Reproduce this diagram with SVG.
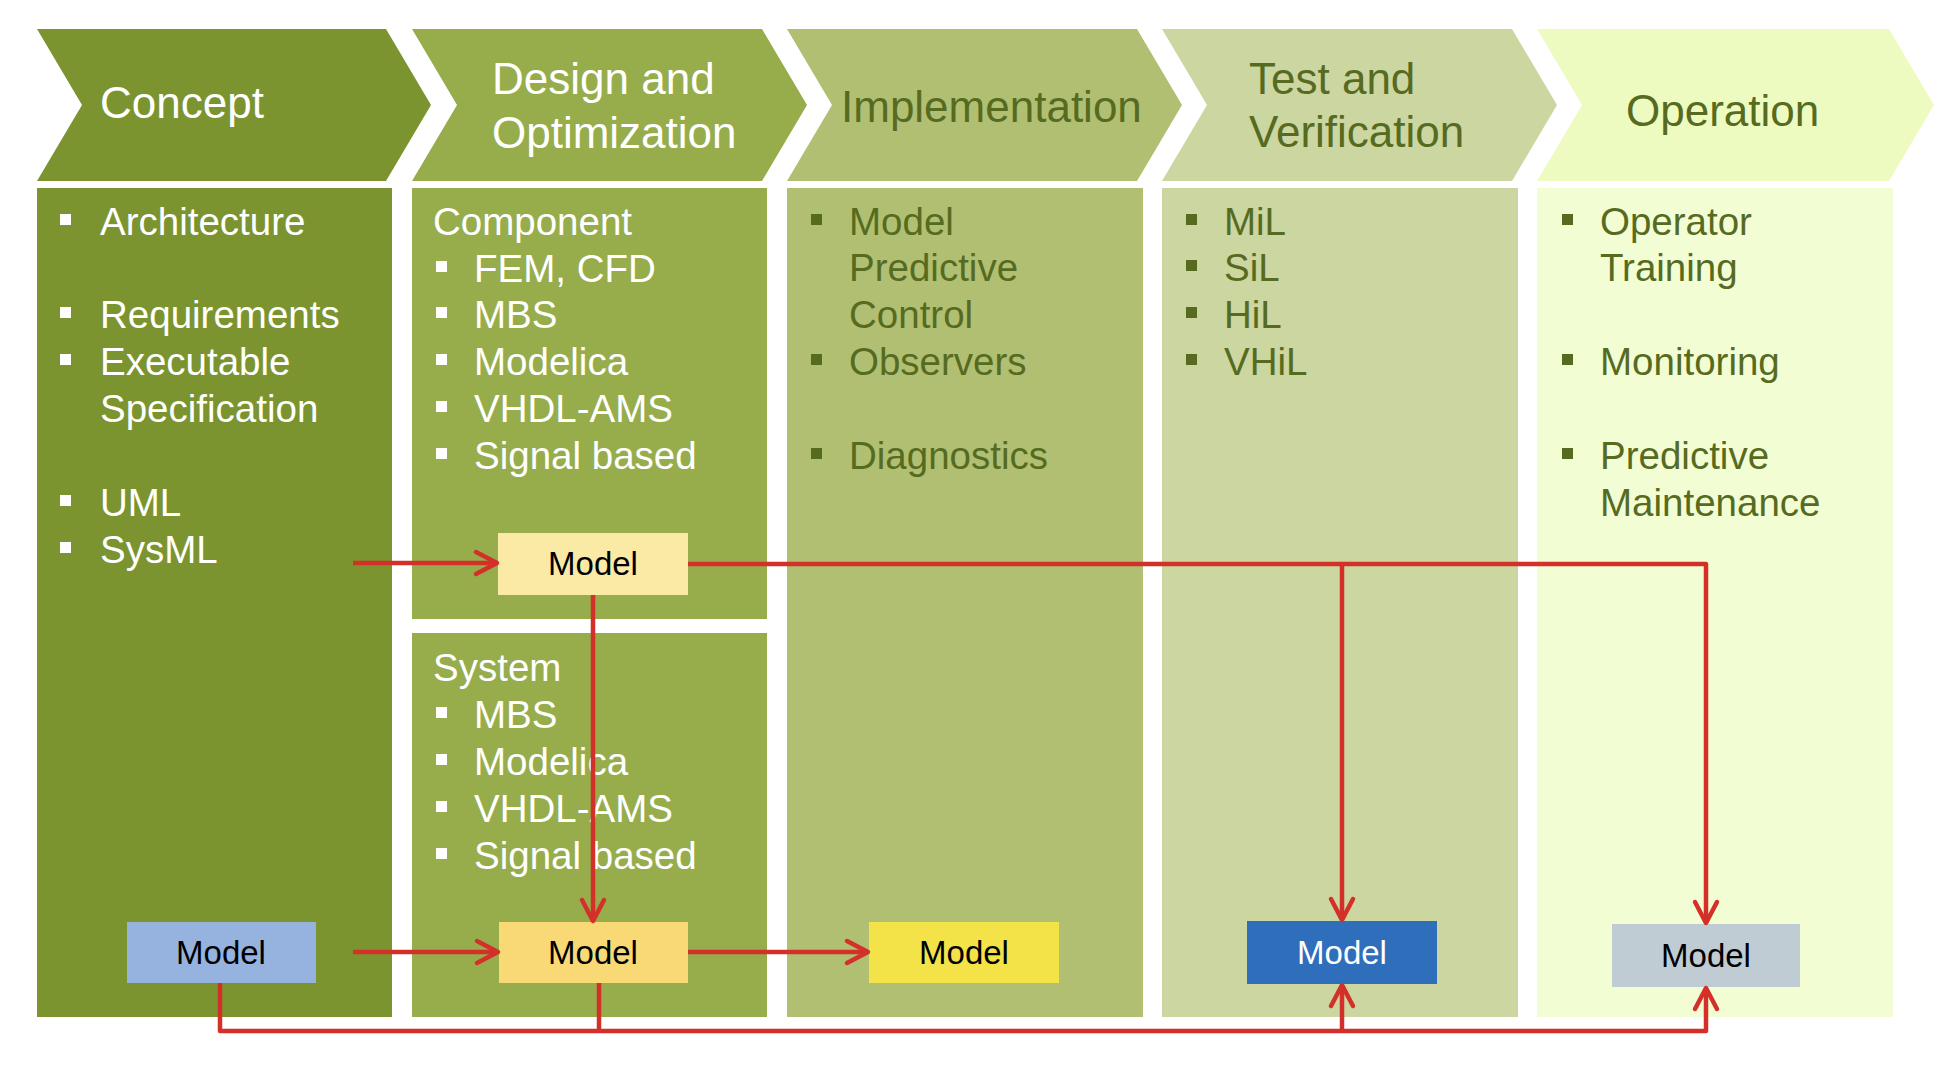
<svg xmlns="http://www.w3.org/2000/svg" width="1942" height="1090" viewBox="0 0 1942 1090">
<style>
text{font-family:"Liberation Sans",Arial,sans-serif}
.hd{font-size:44px}
.bd{font-size:38.5px}
.w{fill:#ffffff}
.d{fill:#566b1f}
.mt{font-size:33px;text-anchor:middle;fill:#000000}
.c1{fill:#7b942f}
.c2{fill:#97ad4c}
.c3{fill:#b1bf72}
.c4{fill:#cbd6a1}
.c5h{fill:#eefbc0}
.c5{fill:#f3fdd3}
.ln{fill:none;stroke:#d3302a;stroke-width:4.5;stroke-linejoin:round}
.arr{marker-end:url(#arr)}
</style>
<defs>
<marker id="arr" viewBox="-26 -14 30 28" refX="0" refY="0" markerWidth="30" markerHeight="28" markerUnits="userSpaceOnUse" orient="auto" overflow="visible">
<path d="M-21,-11 L0,0 L-21,11" fill="none" stroke="#d3302a" stroke-width="4.5" stroke-linecap="round" stroke-linejoin="round"/>
</marker>
</defs>
<rect x="0" y="0" width="1942" height="1090" fill="#ffffff"/>

<g id="concept">
<polygon class="c1" points="37,29 386,29 431,105 386,181 37,181 82,105"/>
<text class="hd w" x="100" y="118">Concept</text>
<rect class="c1" x="37" y="188" width="355" height="829"/>
<g class="w">
<rect x="60" y="214" width="11" height="11"/>
<rect x="60" y="307" width="11" height="11"/>
<rect x="60" y="354" width="11" height="11"/>
<rect x="60" y="495" width="11" height="11"/>
<rect x="60" y="542" width="11" height="11"/>
</g>
<text class="bd w" x="100" y="235">Architecture</text>
<text class="bd w" x="100" y="328">Requirements</text>
<text class="bd w" x="100" y="375">Executable</text>
<text class="bd w" x="100" y="422">Specification</text>
<text class="bd w" x="100" y="516">UML</text>
<text class="bd w" x="100" y="563">SysML</text>
</g>

<g id="design">
<polygon class="c2" points="412,29 762,29 807,105 762,181 412,181 457,105"/>
<text class="hd w" x="492" y="94">Design and</text>
<text class="hd w" x="492" y="148">Optimization</text>
<rect class="c2" x="412" y="188" width="355" height="431"/>
<rect class="c2" x="412" y="633" width="355" height="384"/>
<g class="w">
<rect x="436" y="261" width="11" height="11"/>
<rect x="436" y="307" width="11" height="11"/>
<rect x="436" y="354" width="11" height="11"/>
<rect x="436" y="401" width="11" height="11"/>
<rect x="436" y="448" width="11" height="11"/>
<rect x="436" y="707" width="11" height="11"/>
<rect x="436" y="754" width="11" height="11"/>
<rect x="436" y="801" width="11" height="11"/>
<rect x="436" y="848" width="11" height="11"/>
</g>
<text class="bd w" x="433" y="235">Component</text>
<text class="bd w" x="474" y="282">FEM, CFD</text>
<text class="bd w" x="474" y="328">MBS</text>
<text class="bd w" x="474" y="375">Modelica</text>
<text class="bd w" x="474" y="422">VHDL-AMS</text>
<text class="bd w" x="474" y="469">Signal based</text>
<text class="bd w" x="433" y="681">System</text>
<text class="bd w" x="474" y="728">MBS</text>
<text class="bd w" x="474" y="775">Modelica</text>
<text class="bd w" x="474" y="822">VHDL-AMS</text>
<text class="bd w" x="474" y="869">Signal based</text>
</g>

<g id="implementation">
<polygon class="c3" points="787,29 1137,29 1182,105 1137,181 787,181 832,105"/>
<text class="hd d" x="841" y="122">Implementation</text>
<rect class="c3" x="787" y="188" width="356" height="829"/>
<g class="d">
<rect x="811" y="214" width="11" height="11"/>
<rect x="811" y="354" width="11" height="11"/>
<rect x="811" y="448" width="11" height="11"/>
</g>
<text class="bd d" x="849" y="235">Model</text>
<text class="bd d" x="849" y="281">Predictive</text>
<text class="bd d" x="849" y="328">Control</text>
<text class="bd d" x="849" y="375">Observers</text>
<text class="bd d" x="849" y="469">Diagnostics</text>
</g>

<g id="test">
<polygon class="c4" points="1162,29 1512,29 1557,105 1512,181 1162,181 1207,105"/>
<text class="hd d" x="1249" y="94">Test and</text>
<text class="hd d" x="1249" y="147">Verification</text>
<rect class="c4" x="1162" y="188" width="356" height="829"/>
<g class="d">
<rect x="1186" y="214" width="11" height="11"/>
<rect x="1186" y="260" width="11" height="11"/>
<rect x="1186" y="307" width="11" height="11"/>
<rect x="1186" y="354" width="11" height="11"/>
</g>
<text class="bd d" x="1224" y="235">MiL</text>
<text class="bd d" x="1224" y="281">SiL</text>
<text class="bd d" x="1224" y="328">HiL</text>
<text class="bd d" x="1224" y="375">VHiL</text>
</g>

<g id="operation">
<polygon class="c5h" points="1537,29 1889,29 1934,105 1889,181 1537,181 1582,105"/>
<text class="hd d" x="1626" y="126">Operation</text>
<rect class="c5" x="1537" y="188" width="356" height="829"/>
<g class="d">
<rect x="1562" y="214" width="11" height="11"/>
<rect x="1562" y="354" width="11" height="11"/>
<rect x="1562" y="448" width="11" height="11"/>
</g>
<text class="bd d" x="1600" y="235">Operator</text>
<text class="bd d" x="1600" y="281">Training</text>
<text class="bd d" x="1600" y="375">Monitoring</text>
<text class="bd d" x="1600" y="469">Predictive</text>
<text class="bd d" x="1600" y="516">Maintenance</text>
</g>

<g id="model-component">
<rect x="498" y="533" width="190" height="62" fill="#fbe9a6"/>
<text class="mt" x="593" y="575">Model</text>
</g>
<g id="model-concept">
<rect x="127" y="922" width="189" height="61" fill="#95b3de"/>
<text class="mt" x="221" y="964">Model</text>
</g>
<g id="model-system">
<rect x="499" y="922" width="189" height="61" fill="#f9d975"/>
<text class="mt" x="593" y="964">Model</text>
</g>
<g id="model-implementation">
<rect x="869" y="922" width="190" height="61" fill="#f3e349"/>
<text class="mt" x="964" y="964">Model</text>
</g>
<g id="model-test">
<rect x="1247" y="921" width="190" height="63" fill="#2f6ebb"/>
<text class="mt" x="1342" y="964" style="fill:#ffffff">Model</text>
</g>
<g id="model-operation">
<rect x="1612" y="924" width="188" height="63" fill="#bfccd4"/>
<text class="mt" x="1706" y="967">Model</text>
</g>

<g id="connectors">
<path class="ln arr" d="M353,563 H497"/>
<path class="ln arr" d="M688,564 H1706 V923"/>
<path class="ln arr" d="M1342,564 V920"/>
<path class="ln arr" d="M593,595 V921"/>
<path class="ln arr" d="M353,952 H498"/>
<path class="ln arr" d="M688,952 H868"/>
<path class="ln arr" d="M220,983 V1031 H1706 V988"/>
<path class="ln" d="M599,983 V1031"/>
<path class="ln arr" d="M1342,1031 V985"/>
</g>
</svg>
